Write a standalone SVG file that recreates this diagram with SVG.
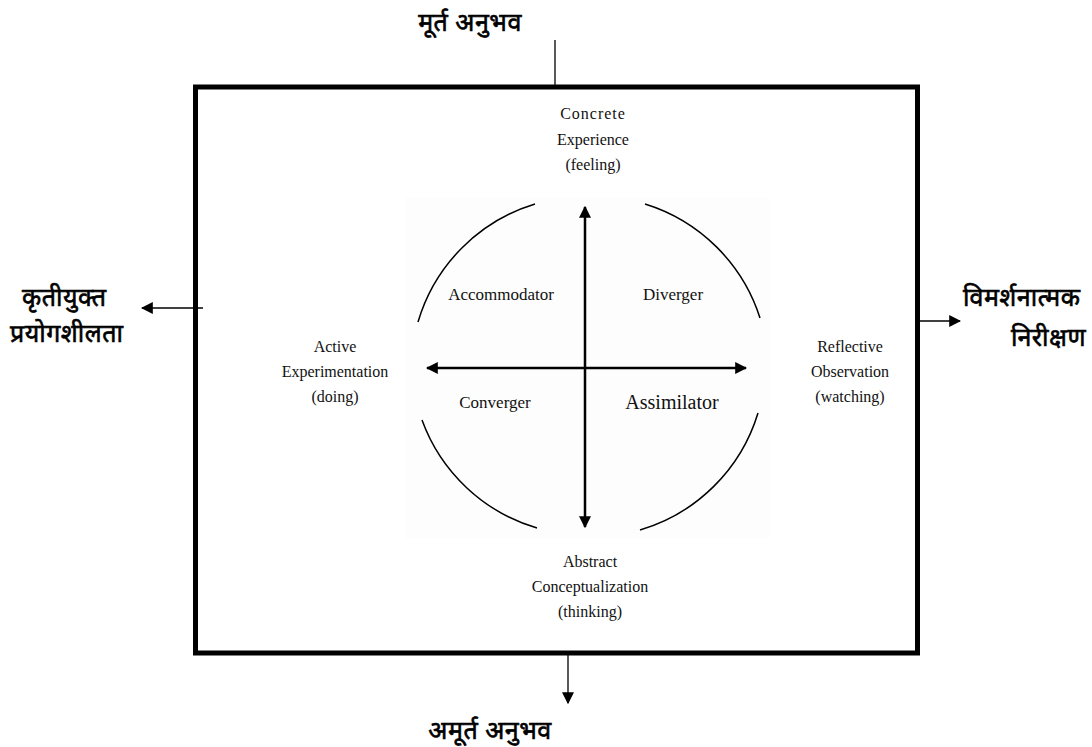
<svg xmlns="http://www.w3.org/2000/svg" width="1092" height="747" viewBox="0 0 1092 747">
<defs>
<marker id="ah" viewBox="0 0 10 10" refX="9" refY="5" markerWidth="12" markerHeight="12" markerUnits="userSpaceOnUse" orient="auto-start-reverse"><path d="M0,0 L10,5 L0,10 z" fill="#000"/></marker>
</defs>
<style>
.en{font-family:"Liberation Serif","Times New Roman",serif;font-size:16px;fill:#111;text-anchor:middle}
.hi{font-family:"Noto Sans Devanagari","Noto Sans","DejaVu Sans",sans-serif;font-size:25px;font-weight:normal;fill:#000;stroke:#000;stroke-width:0.6;letter-spacing:0.5px}
.thin{stroke:#000;stroke-width:1.3;fill:none}
.arc{stroke:#000;stroke-width:1.5;fill:none}
.ax{stroke:#000;stroke-width:2.5;fill:none}
</style>
<rect width="1092" height="747" fill="#fff"/>
<g id="frame"><rect x="195.5" y="87" width="722" height="566" fill="none" stroke="#000" stroke-width="5"/></g>
<g id="inner-bg"><rect x="405" y="198" width="365" height="340" fill="#fdfdfd"/></g>
<g id="circle">
<path class="arc" d="M418,322 A175,175 0 0 1 535,204"/>
<path class="arc" d="M645,204 A175,175 0 0 1 760,318"/>
<path class="arc" d="M758,413 A175,175 0 0 1 640,530"/>
<path class="arc" d="M537,528 A175,175 0 0 1 422,420"/>
</g>
<g id="connectors">
<line class="thin" x1="555" y1="40" x2="555" y2="85"/>
<line class="thin" x1="203" y1="308" x2="142" y2="308" marker-end="url(#ah)"/>
<line class="thin" x1="920" y1="321" x2="960" y2="321" marker-end="url(#ah)"/>
<line class="thin" x1="568" y1="655" x2="568" y2="703" marker-end="url(#ah)"/>
<line class="ax" x1="585" y1="207" x2="585" y2="527" marker-start="url(#ah)" marker-end="url(#ah)"/>
<line class="ax" x1="427" y1="368" x2="746" y2="368" marker-start="url(#ah)" marker-end="url(#ah)"/>
</g>
<g id="concrete"><text class="en" x="593" y="119" letter-spacing="1">Concrete</text><text class="en" x="593" y="145">Experience</text><text class="en" x="593" y="170">(feeling)</text></g>
<g id="active"><text class="en" x="335" y="352">Active</text><text class="en" x="335" y="377">Experimentation</text><text class="en" x="335" y="402">(doing)</text></g>
<g id="reflective"><text class="en" x="850" y="352">Reflective</text><text class="en" x="850" y="377">Observation</text><text class="en" x="850" y="402">(watching)</text></g>
<g id="abstract"><text class="en" x="590" y="567">Abstract</text><text class="en" x="590" y="592">Conceptualization</text><text class="en" x="590" y="617">(thinking)</text></g>
<g id="accommodator"><text class="en" x="501" y="300" style="font-size:17px">Accommodator</text></g>
<g id="diverger"><text class="en" x="673" y="300" style="font-size:17px">Diverger</text></g>
<g id="converger"><text class="en" x="495" y="408" style="font-size:17px">Converger</text></g>
<g id="assimilator"><text class="en" x="672" y="409" style="font-size:20px">Assimilator</text></g>
<g id="murt"><text class="hi" x="470" y="31" text-anchor="middle">मूर्त अनुभव</text></g>
<g id="kriti"><text class="hi" x="22" y="306">कृतीयुक्त</text><text class="hi" x="10" y="342">प्रयोगशीलता</text></g>
<g id="vimarsh"><text class="hi" x="963" y="306">विमर्शनात्मक</text><text class="hi" x="1086" y="346" text-anchor="end">निरीक्षण</text></g>
<g id="amurt"><text class="hi" x="490" y="739" text-anchor="middle">अमूर्त अनुभव</text></g>
</svg>
